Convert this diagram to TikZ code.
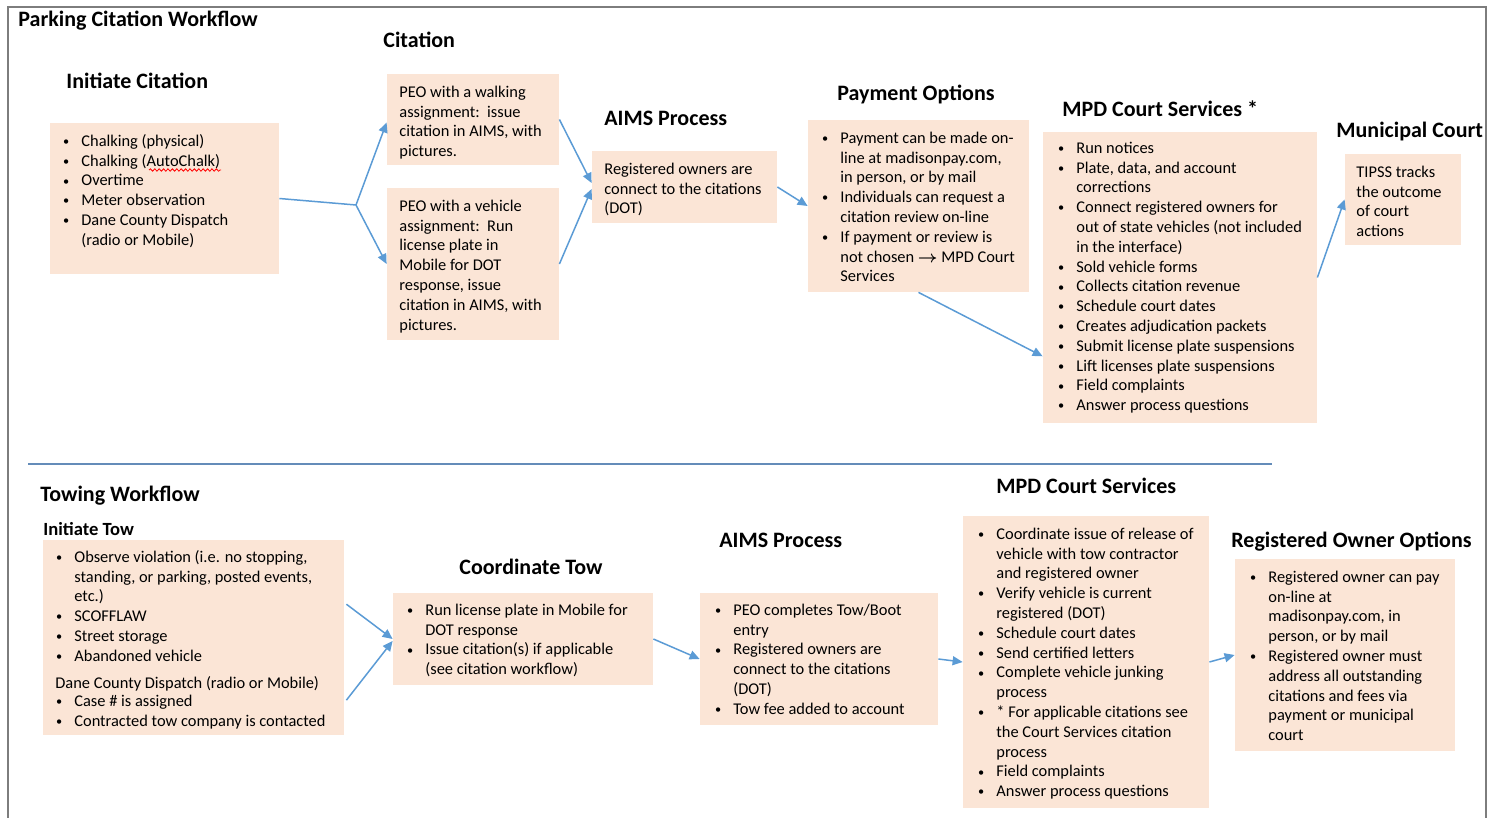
\documentclass[tikz,border=0pt]{standalone}
\usepackage{amsmath}
\usepackage{fontspec}
\setmainfont{Carlito}
\usetikzlibrary{arrows.meta,fit,calc,decorations.pathmorphing}
\definecolor{peach}{RGB}{251,229,214}
\definecolor{arr}{RGB}{91,155,213}
\definecolor{sepc}{RGB}{100,140,185}
\definecolor{framec}{RGB}{125,125,125}
\newcommand\bu{\makebox[9.5pt][l]{\hspace*{0.4pt}\raisebox{0.35pt}{\scalebox{0.75}{\textbullet}}}}
\newcommand\ct{\hspace*{9.5pt}}
\begin{document}
\begin{tikzpicture}[x=0.5pt,y=-0.5pt,
  box/.style={fill=peach, draw=none, inner sep=0pt},
  txt/.style={anchor=north west, inner sep=0pt, align=left, font=\fontsize{8.2}{9.9}\selectfont},
  ttl/.style={anchor=base west, inner sep=0pt, font=\fontsize{11}{13}\selectfont\bfseries},
  conn/.style={draw=arr, line width=0.75pt, -{Triangle[length=5pt,width=4.5pt]}},
  plainc/.style={draw=arr, line width=0.75pt}]
\useasboundingbox (0,0) rectangle (1493,818);
% frame
\draw[framec, line width=1pt] (8,818) -- (8,7) -- (1486,7) -- (1486,818);
% separator
\draw[sepc, line width=1pt] (28,464) -- (1272,464);

% ---------- top: parking citation workflow ----------
\node[ttl] (tpark) at (18,27) {Parking Citation Workflow};
\node[ttl] (tcit) at (383,48) {Citation};
\node[ttl] (tinit) at (66,89) {Initiate Citation};
\node[ttl] (taims) at (604,126) {AIMS Process};
\node[ttl] (tpay) at (837,101) {Payment Options};
\node[ttl] (tmpd) at (1062,117) {MPD Court Services *};
\node[ttl] (tmun) at (1336,138) {Municipal Court};

\node[box, fit={(50,123) (279,274)}] (b1) {};
\node[box, fit={(387,74) (559,165)}] (b2) {};
\node[box, fit={(387,188) (559,340)}] (b3) {};
\node[box, fit={(592,151) (777,223)}] (b4) {};
\node[box, fit={(808,120) (1029,292)}] (b5) {};
\node[box, fit={(1043,132) (1317,423)}] (b6) {};
\node[box, fit={(1345,154) (1461,245)}] (b7) {};

\node[txt] (b1t) at (62,132) {\strut\bu Chalking (physical)\\
\bu Chalking (AutoChalk)\\
\bu Overtime\\
\bu Meter observation\\
\bu Dane County Dispatch\\
\ct (radio or Mobile)};
\draw[red, line width=0.4pt, decorate, decoration={snake, amplitude=0.6pt, segment length=2.2pt}] (149,170) -- (221,170);

\node[txt] (b2t) at (399,83) {\strut PEO with a walking\\
assignment:\ \ issue\\
citation in AIMS, with\\
pictures.};
\node[txt] (b3t) at (399,197) {\strut PEO with a vehicle\\
assignment:\ \ Run\\
license plate in\\
Mobile for DOT\\
response, issue\\
citation in AIMS, with\\
pictures.};
\node[txt] (b4t) at (604,160) {\strut Registered owners are\\
connect to the citations\\
(DOT)};
\node[txt] (b5t) at (821,129) {\strut\bu Payment can be made on-\\
\ct line at madisonpay.com,\\
\ct in person, or by mail\\
\bu Individuals can request a\\
\ct citation review on-line\\
\bu If payment or review is\\
\ct not chosen $\boldsymbol{\rightarrow}$ MPD Court\\
\ct Services};
\node[txt] (b6t) at (1057,139) {\strut\bu Run notices\\
\bu Plate, data, and account\\
\ct corrections\\
\bu Connect registered owners for\\
\ct out of state vehicles (not included\\
\ct in the interface)\\
\bu Sold vehicle forms\\
\bu Collects citation revenue\\
\bu Schedule court dates\\
\bu Creates adjudication packets\\
\bu Submit license plate suspensions\\
\bu Lift licenses plate suspensions\\
\bu Field complaints\\
\bu Answer process questions};
\node[txt] (b7t) at (1356,163) {\strut TIPSS tracks\\
the outcome\\
of court\\
actions};

\coordinate (br) at (356,205);
\draw[plainc] (b1.east) -- (br);
\draw[conn] (br) -- ($(b2.west)+(0,3)$);
\draw[conn] (br) -- (b3.west);
\draw[conn] (b2.east) -- ($(b4.west)+(0,-4)$);
\draw[conn] (b3.east) -- ($(b4.west)+(0,2)$);
\draw[conn] (b4.east) -- (b5.west);
\draw[conn] (b5.south) -- ($(b6.north west)!0.77!(b6.south west)$);
\draw[conn] (b6.east) -- (b7.west);

% ---------- bottom: towing workflow ----------
\node[ttl] (ttow) at (40,501) {Towing Workflow};
\node[ttl, font=\fontsize{9.3}{11}\selectfont\bfseries] (tinitt) at (43,535) {Initiate Tow};
\node[ttl] (tcoord) at (459,574) {Coordinate Tow};
\node[ttl] (taims2) at (719,547) {AIMS Process};
\node[ttl] (tmpd2) at (996,493) {MPD Court Services};
\node[ttl] (treg) at (1231,547) {Registered Owner Options};

\node[box, fit={(43,540) (344,735)}] (t1) {};
\node[box, fit={(393,593) (653,685)}] (t2) {};
\node[box, fit={(700,593) (938,725)}] (t3) {};
\node[box, fit={(963,516) (1209,808)}] (t4) {};
\node[box, fit={(1235,559) (1455,751)}] (t5) {};

\node[txt] (t1t) at (55,548) {\strut\bu Observe violation (i.e. no stopping,\\
\ct standing, or parking, posted events,\\
\ct etc.)\\
\bu SCOFFLAW\\
\bu Street storage\\
\bu Abandoned vehicle};
\node[txt] (t1u) at (55,674) {\strut Dane County Dispatch (radio or Mobile)\\[-0.8pt]
\bu Case \# is assigned\\
\bu Contracted tow company is contacted};
\node[txt] (t2t) at (406,601) {\strut\bu Run license plate in Mobile for\\
\ct DOT response\\
\bu Issue citation(s) if applicable\\
\ct (see citation workflow)};
\node[txt] (t3t) at (714,601) {\strut\bu PEO completes Tow/Boot\\
\ct entry\\
\bu Registered owners are\\
\ct connect to the citations\\
\ct (DOT)\\
\bu Tow fee added to account};
\node[txt] (t4t) at (977,525) {\strut\bu Coordinate issue of release of\\
\ct vehicle with tow contractor\\
\ct and registered owner\\
\bu Verify vehicle is current\\
\ct registered (DOT)\\
\bu Schedule court dates\\
\bu Send certified letters\\
\bu Complete vehicle junking\\
\ct process\\
\bu * For applicable citations see\\
\ct the Court Services citation\\
\ct process\\
\bu Field complaints\\
\bu Answer process questions};
\node[txt] (t5t) at (1249,568) {\strut\bu Registered owner can pay\\
\ct on-line at\\
\ct madisonpay.com, in\\
\ct person, or by mail\\
\bu Registered owner must\\
\ct address all outstanding\\
\ct citations and fees via\\
\ct payment or municipal\\
\ct court};

\draw[conn] ($(t1.north east)!0.33!(t1.south east)+(2,0)$) -- (t2.west);
\draw[conn] ($(t1.north east)!0.82!(t1.south east)+(2,0)$) -- ($(t2.west)+(0,2)$);
\draw[conn] (t2.east) -- (t3.west);
\draw[conn] (t3.east) -- (t4.west);
\draw[conn] (t4.east) -- (t5.west);
\end{tikzpicture}
\end{document}
